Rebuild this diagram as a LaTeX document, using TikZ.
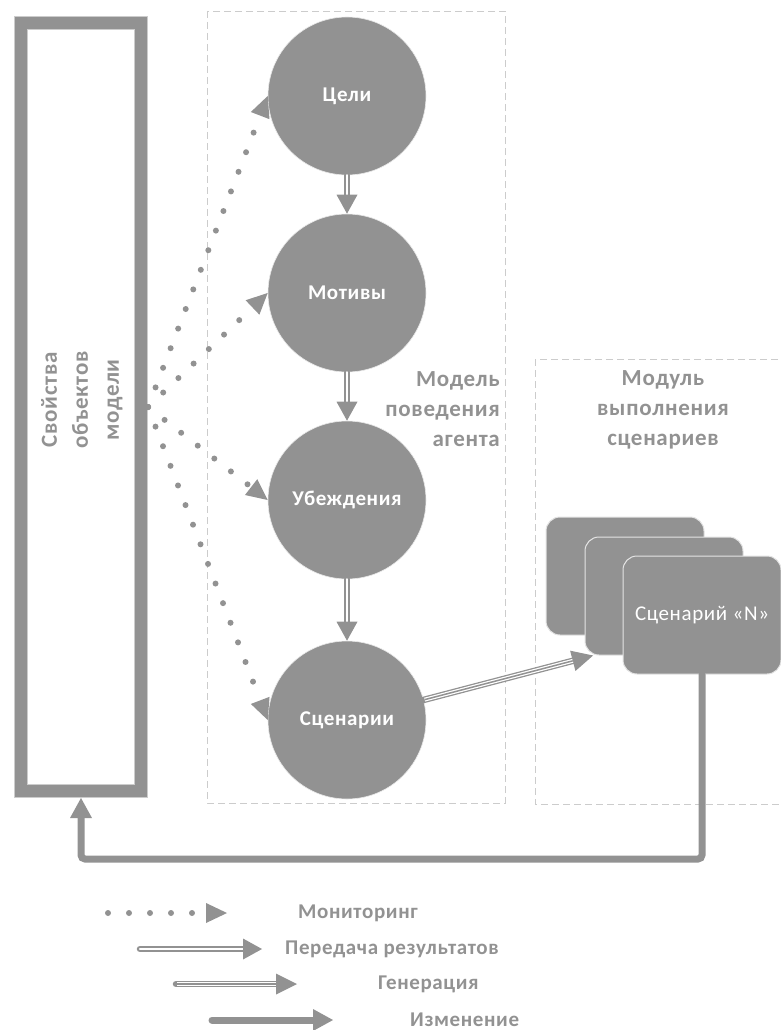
\documentclass[tikz,border=0pt]{standalone}
\usepackage{fontspec}
\setmainfont{Carlito}
\newfontfamily\lblfont[LetterSpace=3]{Carlito}
\usetikzlibrary{arrows.meta}
\definecolor{grau}{RGB}{146,146,146}
\definecolor{hellgrau}{RGB}{204,204,204}
% Generierungspfeil: drei Linien
\newcommand{\genpfeil}[2]{%
	\draw[genaussen] (#1) -- (#2);
	\draw[geninnen] (#1) -- (#2);}

\begin{document}
\begin{tikzpicture}[x=1pt,y=-1pt,
		kreis/.style={circle, fill=grau, draw=white!80!grau, line width=.6pt, minimum size=158pt, inner sep=0pt, text=white, font=\lblfont\bfseries\fontsize{21}{25}\selectfont},
		karte/.style={rounded corners=14pt, fill=grau, draw=white!75!grau, line width=1pt, minimum width=158pt, minimum height=118pt, inner sep=0pt, text=white, font=\lblfont\fontsize{21}{25}\selectfont},
		kasten/.style={draw=hellgrau, line width=.8pt, double=grau, double distance=12.4pt, outer sep=7pt, minimum width=120pt, minimum height=768pt},
		rahmen/.style={draw=hellgrau, line width=.8pt, dash pattern=on 7pt off 4pt},
		titel/.style={text=grau, font=\lblfont\bfseries\fontsize{23}{30}\selectfont, inner sep=0pt},
		legtext/.style={text=grau, font=\lblfont\bfseries\fontsize{21}{25}\selectfont, anchor=west, inner sep=0pt},
		monitor/.style={grau, line width=6pt, line cap=round, dash pattern=on 0pt off 21pt, -{Triangle[length=21pt,width=20pt,line width=0pt]}},
		pass/.style={draw=grau, line width=2pt, line cap=round, double=white, double distance=2.5pt, -{Triangle[length=19pt,width=21pt,line width=0pt]}},
		genaussen/.style={draw=grau, line width=6.5pt, line cap=round, -{Triangle[length=21pt,width=21pt,line width=0pt]}},
		geninnen/.style={draw=white, line width=1.2pt, double=grau, double distance=1.5pt, shorten >=21pt, shorten <=1pt},
		aend/.style={draw=grau, line width=7pt, line cap=round, rounded corners=4pt, -{Triangle[length=20pt,width=22pt,line width=0pt]}}]
	\useasboundingbox (0,0) rectangle (780,1030);
	\def\kx{347}
	% Rahmen
	\draw[rahmen] (207,11) rectangle (505,803);
	\draw[rahmen] (535,359) rectangle (800,804);
	\node[titel, align=right, anchor=east] (modell) at (500,409) {Модель\\поведения\\агента};
	\node[titel, align=center] (modul) at (663,410) {Модуль\\выполнения\\сценариев};
	% Eigenschaften
	\node[kasten] (eigen) at (81,407) {};
	\node[titel, rotate=90, align=center, font=\lblfont\bfseries\fontsize{23}{31}\selectfont] (eigentext) at (82,400) {Свойства\\объектов\\модели};
	% Kreise
	\node[kreis] (ziele) at (\kx,96) {Цели};
	\node[kreis] (motive) at (\kx,293) {Мотивы};
	\node[kreis] (ueberz) at (\kx,500) {Убеждения};
	\node[kreis] (szen) at (\kx,720) {Сценарии};
	\draw[pass] (ziele) -- (motive);
	\draw[pass] (motive) -- (ueberz);
	\draw[pass] (ueberz) -- (szen);
	\foreach \z in {ziele,motive,ueberz,szen}
		\draw[monitor] (eigen.east) -- (\z.west);
	% Karten
	\node[karte] (k1) at (625,576) {};
	\node[karte] (k2) at (664,596) {};
	\node[karte] (k3) at (702,615) {Сценарий «N»};
	\genpfeil{szen}{k2.220}
	\coordinate (knick) at (81,859);
	\draw[aend] (k3.south) |- (knick) -- (eigen.south);
	% Legende
	\coordinate (l1a) at (108,913);
	\coordinate (l1b) at (227,913);
	\coordinate (l2a) at (140,949);
	\coordinate (l2b) at (262,949);
	\coordinate (l3a) at (176,984);
	\coordinate (l3b) at (297,984);
	\coordinate (l4a) at (212,1020);
	\coordinate (l4b) at (333,1020);
	\draw[monitor] (l1a) -- (l1b);
	\draw[pass] (l2a) -- (l2b);
	\genpfeil{l3a}{l3b}
	\draw[aend] (l4a) -- (l4b);
	\node[legtext] (t1) at (298,913) {Мониторинг};
	\node[legtext] (t2) at (285,949) {Передача результатов};
	\node[legtext] (t3) at (378,984) {Генерация};
	\node[legtext] (t4) at (410,1020) {Изменение};
\end{tikzpicture}
\end{document}
